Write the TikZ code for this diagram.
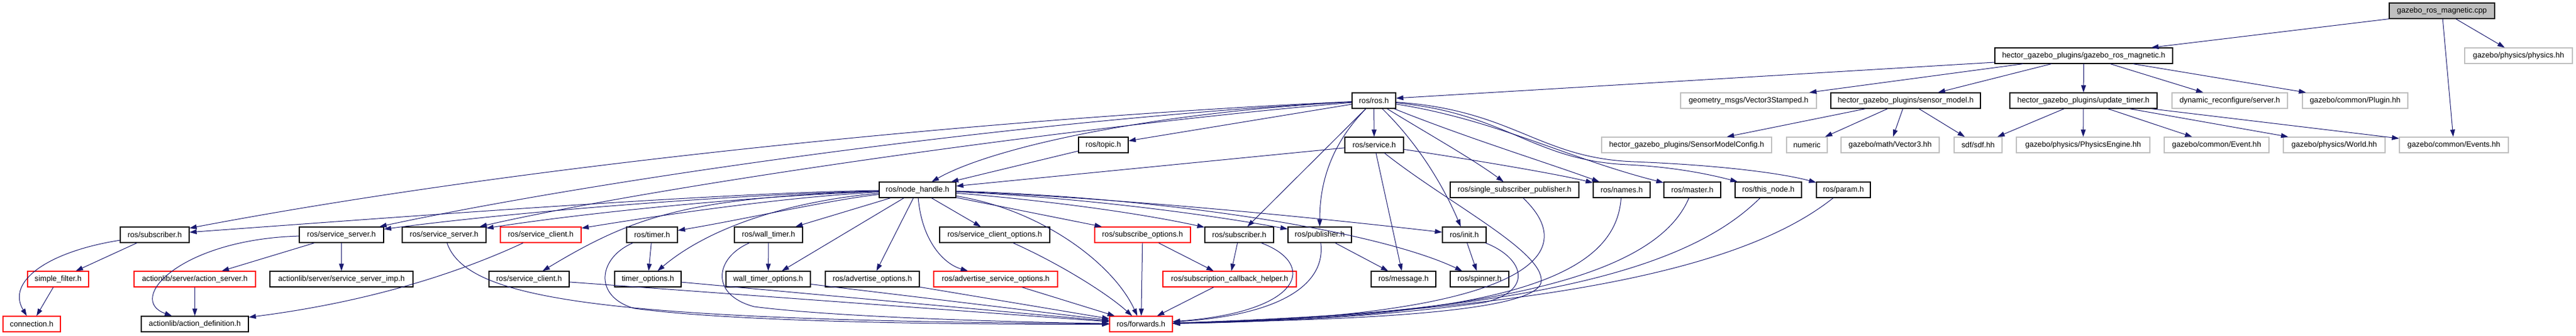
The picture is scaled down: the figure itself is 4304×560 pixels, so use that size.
\documentclass[tikz,border=0pt]{standalone}
\usepackage{fontspec}
\setmainfont{Liberation Sans}
\usetikzlibrary{arrows.meta}
\definecolor{edgec}{HTML}{191970}
\definecolor{greyb}{HTML}{BFBFBF}
\tikzset{
  box/.style={draw=black, line width=1.2pt, inner sep=0pt, minimum height=26pt, font=\fontsize{12.8}{14}\selectfont, text=black},
  redbox/.style={box, draw=red},
  greybox/.style={box, draw=greyb},
  rootbox/.style={box, fill=greyb},
  e/.style={draw=edgec, line width=1pt, -{Triangle[length=12pt,width=8pt]}},
}
\begin{document}
\begin{tikzpicture}[x=1pt,y=-1pt]
\useasboundingbox (0,0) rectangle (4304,560);
% row 0
\node[rootbox, minimum width=176] (cpp) at (4080,18) {gazebo\_ros\_magnetic.cpp};
% row 1
\node[box, minimum width=297] (gzmag) at (3481.5,93) {hector\_gazebo\_plugins/gazebo\_ros\_magnetic.h};
\node[greybox, minimum width=180] (physics) at (4208,93) {gazebo/physics/physics.hh};
% row 2
\node[box, minimum width=73] (rosh) at (2295.5,168) {ros/ros.h};
\node[greybox, minimum width=227] (vec3st) at (2921.5,168) {geometry\_msgs/Vector3Stamped.h};
\node[box, minimum width=250] (sensmod) at (3184,168) {hector\_gazebo\_plugins/sensor\_model.h};
\node[box, minimum width=246] (updtimer) at (3481,168) {hector\_gazebo\_plugins/update\_timer.h};
\node[greybox, minimum width=193] (dynrec) at (3725.5,168) {dynamic\_reconfigure/server.h};
\node[greybox, minimum width=176] (plugin) at (3935,168) {gazebo/common/Plugin.hh};
% row 3
\node[box, minimum width=83] (topic) at (1843.5,242) {ros/topic.h};
\node[box, minimum width=98] (service) at (2296,242) {ros/service.h};
\node[greybox, minimum width=284] (smconf) at (2818,242) {hector\_gazebo\_plugins/SensorModelConfig.h};
\node[greybox, minimum width=68] (numeric) at (3019,242) {numeric};
\node[greybox, minimum width=164] (vector3) at (3158,242) {gazebo/math/Vector3.hh};
\node[greybox, minimum width=80] (sdf) at (3305,242) {sdf/sdf.hh};
\node[greybox, minimum width=223] (physeng) at (3480.5,242) {gazebo/physics/PhysicsEngine.hh};
\node[greybox, minimum width=175] (event) at (3703.5,242) {gazebo/common/Event.hh};
\node[greybox, minimum width=170] (world) at (3900,242) {gazebo/physics/World.hh};
\node[greybox, minimum width=182] (events) at (4100,242) {gazebo/common/Events.hh};
% row 4
\node[box, minimum width=128] (nodeh) at (1533,317) {ros/node\_handle.h};
\node[box, minimum width=215] (ssp) at (2530.5,317) {ros/single\_subscriber\_publisher.h};
\node[box, minimum width=95] (names) at (2709.5,317) {ros/names.h};
\node[box, minimum width=95] (master) at (2827.5,317) {ros/master.h};
\node[box, minimum width=111] (thisnode) at (2954.5,317) {ros/this\_node.h};
\node[box, minimum width=90] (param) at (3080,317) {ros/param.h};
% row 5
\node[box, minimum width=115] (subL) at (258.5,392) {ros/subscriber.h};
\node[box, minimum width=141] (ssrv1) at (570.5,392) {ros/service\_server.h};
\node[box, minimum width=140] (ssrv2) at (742,392) {ros/service\_server.h};
\node[redbox, minimum width=135] (sclientR) at (903.5,392) {ros/service\_client.h};
\node[box, minimum width=85] (timer) at (1089.5,392) {ros/timer.h};
\node[box, minimum width=114] (wtimer) at (1284,392) {ros/wall\_timer.h};
\node[box, minimum width=184] (scopts) at (1662,392) {ros/service\_client\_options.h};
\node[redbox, minimum width=160] (subopts) at (1909,392) {ros/subscribe\_options.h};
\node[box, minimum width=115] (subR) at (2070.5,392) {ros/subscriber.h};
\node[box, minimum width=106] (pub) at (2205,392) {ros/publisher.h};
\node[box, minimum width=73] (init) at (2446.5,392) {ros/init.h};
% row 6
\node[redbox, minimum width=102] (simplef) at (97,466) {simple\_filter.h};
\node[redbox, minimum width=203] (actsrv) at (325.5,466) {actionlib/server/action\_server.h};
\node[box, minimum width=239] (ssimp) at (570.5,466) {actionlib/server/service\_server\_imp.h};
\node[box, minimum width=134] (sclient) at (884,466) {ros/service\_client.h};
\node[box, minimum width=111] (topts) at (1082.5,466) {timer\_options.h};
\node[box, minimum width=141] (wtopts) at (1283.5,466) {wall\_timer\_options.h};
\node[box, minimum width=157] (advopts) at (1457.5,466) {ros/advertise\_options.h};
\node[redbox, minimum width=207] (advsopts) at (1663.5,466) {ros/advertise\_service\_options.h};
\node[redbox, minimum width=223] (scbh) at (2054.5,466) {ros/subscription\_callback\_helper.h};
\node[box, minimum width=108] (message) at (2345,466) {ros/message.h};
\node[box, minimum width=98] (spinner) at (2472,466) {ros/spinner.h};
% row 7
\node[redbox, minimum width=96] (connection) at (53,541) {connection.h};
\node[box, minimum width=179] (actdef) at (325.5,541) {actionlib/action\_definition.h};
\node[redbox, minimum width=105] (forwards) at (1906.5,541) {ros/forwards.h};

% root edges
\draw[e] (cpp.south west) -- (gzmag);
\draw[e] (cpp) -- (events);
\draw[e] (cpp) -- (physics);
% gazebo_ros_magnetic.h
\draw[e] ([yshift=-11pt]gzmag.west) -- ([yshift=4pt]rosh.east);
\draw[e] (gzmag) -- (vec3st);
\draw[e] (gzmag) -- (sensmod);
\draw[e] (gzmag) -- (updtimer);
\draw[e] (gzmag) -- (dynrec);
\draw[e] (gzmag) -- (plugin);
% sensor_model.h
\draw[e] (sensmod) -- (smconf);
\draw[e] (sensmod) -- (numeric);
\draw[e] (sensmod) -- (vector3);
\draw[e] (sensmod) -- (sdf);
% update_timer.h
\draw[e] (updtimer) -- (sdf);
\draw[e] (updtimer) -- (physeng);
\draw[e] (updtimer) -- (event);
\draw[e] (updtimer) -- (world);
\draw[e] (updtimer) -- (events);
% ros/ros.h
\draw[e] (rosh) -- (service);
\draw[e] (rosh) -- (topic);
\draw[e] (rosh) .. controls (1900,190) and (1650,250) .. (nodeh);
\draw[e] (rosh) .. controls (1700,195) and (900,270) .. (subL);
\draw[e] (rosh) .. controls (1700,200) and (1000,300) .. (ssrv1);
\draw[e] (rosh) .. controls (1800,210) and (1100,310) .. (ssrv2);
\draw[e] (rosh) -- (subR);
\draw[e] (rosh) .. controls (2215,250) and (2205,320) .. (pub);
\draw[e] (rosh) .. controls (2380,250) and (2420,330) .. (init);
\draw[e] (rosh) .. controls (2380,220) and (2460,265) .. (ssp);
\draw[e] (rosh) .. controls (2450,230) and (2580,270) .. (names);
\draw[e] (rosh) .. controls (2500,200) and (2620,265) .. (master);
\draw[e] (rosh) .. controls (2520,190) and (2560,268) .. (2720,275) .. controls (2800,279) and (2860,292) .. (thisnode);
\draw[e] (rosh) .. controls (2530,184) and (2570,264) .. (2730,270) .. controls (2880,276) and (2980,290) .. (param);
% ros/service.h
\draw[e] (service) -- (nodeh);
\draw[e] (service) .. controls (2450,265) and (2600,290) .. (names);
\draw[e] (service) -- (message);
\draw[e] (service) .. controls (2420,340) and (2580,420) .. (2575,470) .. controls (2570,530) and (2150,535) .. (forwards);
% ros/topic.h
\draw[e] (topic) -- (nodeh);
% ros/node_handle.h
\draw[e] (nodeh) .. controls (1200,322) and (700,360) .. (subL);
\draw[e] (nodeh) .. controls (1200,326) and (850,355) .. (ssrv1);
\draw[e] (nodeh) .. controls (1250,328) and (980,355) .. (ssrv2);
\draw[e] (nodeh) .. controls (1300,330) and (1100,360) .. (sclientR);
\draw[e] (nodeh) .. controls (1380,335) and (1250,365) .. (timer);
\draw[e] (nodeh) -- (wtimer);
\draw[e] (nodeh) .. controls (1150,330) and (1060,360) .. (sclient);
\draw[e] (nodeh) .. controls (1330,335) and (1190,375) .. (topts);
\draw[e] (nodeh) -- (wtopts);
\draw[e] (nodeh) -- (advopts);
\draw[e] (nodeh) .. controls (1540,400) and (1575,440) .. (advsopts);
\draw[e] (nodeh) -- (scopts);
\draw[e] (nodeh) .. controls (1740,350) and (1860,440) .. (forwards);
\draw[e] (nodeh) -- (subopts);
\draw[e] (nodeh) .. controls (1750,335) and (1900,355) .. (subR);
\draw[e] (nodeh) .. controls (1800,330) and (2000,355) .. (pub);
\draw[e] (nodeh) .. controls (1850,330) and (2150,358) .. (init);
\draw[e] (nodeh) .. controls (1950,330) and (2300,385) .. (spinner);
% left part
\draw[e] (subL) .. controls (80,420) and (10,470) .. (connection);
\draw[e] (subL) -- (simplef);
\draw[e] (simplef) -- (connection);
\draw[e] (ssrv1) .. controls (300,400) and (210,500) .. (actdef);
\draw[e] (ssrv1) -- (actsrv);
\draw[e] (ssrv1) -- (ssimp);
\draw[e] (actsrv) -- (actdef);
\draw[e] (sclientR) .. controls (800,440) and (650,500) .. (actdef);
\draw[e] (ssrv2) .. controls (780,500) and (1000,535) .. (forwards);
\draw[e] (timer) -- (topts);
\draw[e] (timer) .. controls (1000,430) and (990,495) .. (1060,515) .. controls (1250,540) and (1650,542) .. (forwards);
\draw[e] (wtimer) -- (wtopts);
\draw[e] (wtimer) .. controls (1195,430) and (1185,492) .. (1260,512) .. controls (1400,530) and (1700,538) .. (forwards);
\draw[e] (sclient) -- (forwards);
\draw[e] (topts) -- (forwards);
\draw[e] (wtopts) -- (forwards);
\draw[e] (advopts) -- (forwards);
\draw[e] (advsopts) -- (forwards);
\draw[e] (scopts) .. controls (1770,440) and (1850,490) .. (forwards);
% middle part
\draw[e] (subopts) -- (forwards);
\draw[e] (subopts) -- (scbh);
\draw[e] (subR) -- (scbh);
\draw[e] (scbh) -- (forwards);
\draw[e] (subR) .. controls (2200,440) and (2180,520) .. (forwards);
\draw[e] (pub) .. controls (2215,470) and (2150,525) .. (forwards);
\draw[e] (pub) -- (message);
\draw[e] (init) -- (spinner);
\draw[e] (init) .. controls (2545,430) and (2565,485) .. (2480,505) .. controls (2300,530) and (2100,538) .. (forwards);
\draw[e] (ssp) .. controls (2660,440) and (2500,530) .. (forwards);
\draw[e] (names) .. controls (2700,450) and (2550,530) .. (forwards);
\draw[e] (master) .. controls (2780,430) and (2600,525) .. (forwards);
\draw[e] (thisnode) .. controls (2850,420) and (2650,520) .. (forwards);
\draw[e] (param) .. controls (2950,420) and (2700,515) .. (forwards);
\end{tikzpicture}
\end{document}
